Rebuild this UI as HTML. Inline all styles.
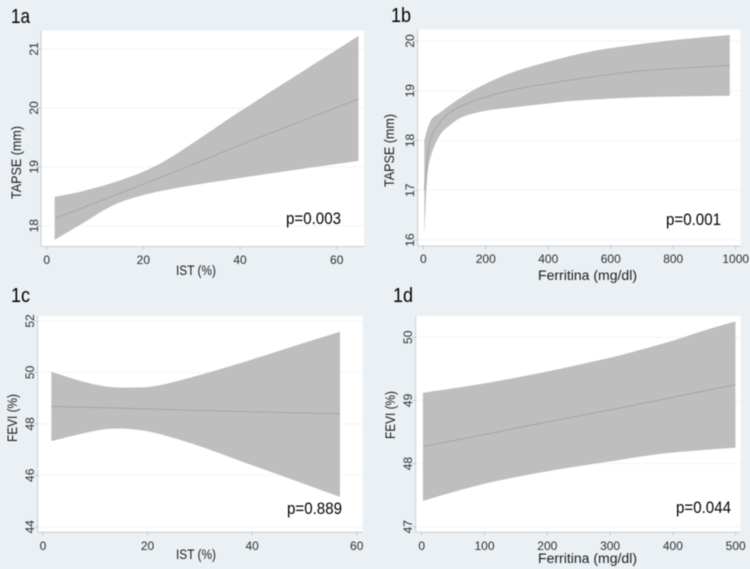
<!DOCTYPE html>
<html>
<head>
<meta charset="utf-8">
<style>
html,body{margin:0;padding:0;background:#eaf0f4;width:750px;height:569px;overflow:hidden}
svg{display:block;filter:blur(0.55px)}
text{font-family:"Liberation Sans",sans-serif;fill:#2a2a2a}
.tick{font-size:12px;fill:#2e2e2e}
.title{font-size:13.5px;fill:#1c1c1c}
.panel{font-size:20px;fill:#000}
.pval{font-size:16.5px;fill:#000}
</style>
</head>
<body>
<svg id="fig" width="750" height="569" viewBox="0 0 750 569" xmlns="http://www.w3.org/2000/svg">
<rect width="750" height="569" fill="#eaf0f4"/>
<g id="marks"></g>
<text class="panel" x="11" y="23" textLength="19" lengthAdjust="spacingAndGlyphs">1a</text>
<text class="panel" x="391" y="22" textLength="20" lengthAdjust="spacingAndGlyphs">1b</text>
<text class="panel" x="11" y="302" textLength="19" lengthAdjust="spacingAndGlyphs">1c</text>
<text class="panel" x="393" y="302" textLength="20" lengthAdjust="spacingAndGlyphs">1d</text>
<text class="pval" x="286" y="224" textLength="55" lengthAdjust="spacingAndGlyphs">p=0.003</text>
<text class="pval" x="666" y="225" textLength="55" lengthAdjust="spacingAndGlyphs">p=0.001</text>
<text class="pval" x="287" y="514" textLength="55" lengthAdjust="spacingAndGlyphs">p=0.889</text>
<text class="pval" x="676" y="513" textLength="55" lengthAdjust="spacingAndGlyphs">p=0.044</text>
<text class="title" x="176" y="275" textLength="40" lengthAdjust="spacingAndGlyphs">IST (%)</text>
<text class="title" x="538" y="280" textLength="99" lengthAdjust="spacingAndGlyphs">Ferritina (mg/dl)</text>
<text class="title" x="176" y="559" textLength="40" lengthAdjust="spacingAndGlyphs">IST (%)</text>
<text class="title" x="538" y="563" textLength="99" lengthAdjust="spacingAndGlyphs">Ferritina (mg/dl)</text>
<text class="title" transform="translate(21,199) rotate(-90)" textLength="73" lengthAdjust="spacingAndGlyphs">TAPSE (mm)</text>
<text class="title" transform="translate(394,187) rotate(-90)" textLength="73" lengthAdjust="spacingAndGlyphs">TAPSE (mm)</text>
<text class="title" transform="translate(17,442) rotate(-90)" textLength="48" lengthAdjust="spacingAndGlyphs">FEVI (%)</text>
<text class="title" transform="translate(395,439) rotate(-90)" textLength="48" lengthAdjust="spacingAndGlyphs">FEVI (%)</text>
</svg>
<script>
// Panel 1a
const aXTicks = [0, 20, 40, 60];
const aYTicks = [18, 19, 20, 21];
const aUpperX = [1.65, 7.6, 14.5, 21.4, 27.6, 40, 52.4, 64.5];
const aUpperY = [18.49, 18.59, 18.75, 18.97, 19.26, 19.94, 20.59, 21.22];
const aLowerX = [1.65, 7.6, 13.1, 18.6, 27.6, 40, 52.4, 64.5];
const aLowerY = [17.76, 18.05, 18.32, 18.49, 18.65, 18.81, 18.96, 19.1];
const aMidX = [1.65, 27.6, 40, 64.5];
const aMidY = [18.12, 18.95, 19.37, 20.15];
// Panel 1b
const bXTicks = [0, 200, 400, 600, 800, 1000];
const bYTicks = [16, 17, 18, 19, 20];
const bUpperX = [3.3, 23.6, 53.5, 117.5, 203, 309.5, 486, 614, 806, 981];
const bUpperY = [18.01, 18.4, 18.56, 18.85, 19.15, 19.42, 19.72, 19.87, 20.02, 20.12];
const bLowerX = [3.3, 12.9, 26.9, 53.5, 85.5, 128, 203, 309.5, 405, 486, 699, 981];
const bLowerY = [16.07, 17.27, 17.74, 18.11, 18.31, 18.48, 18.6, 18.68, 18.75, 18.8, 18.87, 18.9];
const bMidX = [3.3, 19, 43, 75, 128, 203, 309.5, 405, 486, 699, 981];
const bMidY = [17.0, 17.91, 18.28, 18.51, 18.71, 18.88, 19.05, 19.15, 19.23, 19.4, 19.51];
// Panel 1c
const cXTicks = [0, 20, 40, 60];
const cYTicks = [44, 46, 48, 50, 52];
const cUpperX = [1.6, 7.7, 12.2, 16.6, 21.8, 30, 39.6, 49.2, 56.8];
const cUpperY = [50.02, 49.64, 49.45, 49.41, 49.48, 49.9, 50.48, 51.1, 51.58];
const cLowerX = [1.6, 7.7, 12.2, 16.6, 21.8, 30, 39.6, 49.2, 56.8];
const cLowerY = [47.33, 47.63, 47.8, 47.8, 47.63, 47.13, 46.42, 45.72, 45.16];
const cMidX = [1.6, 20, 40, 56.8];
const cMidY = [48.68, 48.58, 48.47, 48.39];
// Panel 1d
const dXTicks = [0, 100, 200, 300, 400, 500];
const dYTicks = [47, 48, 49, 50];
const dUpperX = [2, 100, 196, 297, 347.5, 400.7, 453.8, 499.5];
const dUpperY = [49.12, 49.27, 49.45, 49.67, 49.8, 49.95, 50.12, 50.25];
const dLowerX = [2, 100, 196, 297, 377, 456, 499.5];
const dLowerY = [47.41, 47.68, 47.87, 48.03, 48.15, 48.22, 48.25];
const dMidX = [2, 100, 200, 300, 400, 499.5];
const dMidY = [48.27, 48.46, 48.66, 48.85, 49.05, 49.25];

const NS = 'http://www.w3.org/2000/svg';
const marks = document.getElementById('marks');

function add(tag, attrs) {
  const el = document.createElementNS(NS, tag);
  Object.keys(attrs).forEach(function (k) { el.setAttribute(k, attrs[k]); });
  marks.appendChild(el);
  return el;
}

// Catmull-Rom smoothing through the points; `move` starts a new path, otherwise continues
function smooth(pts, move) {
  let d = (move ? 'M' : 'L') + pts[0][0].toFixed(2) + ' ' + pts[0][1].toFixed(2);
  for (let i = 0; i < pts.length - 1; i++) {
    const p0 = pts[Math.max(i - 1, 0)], p1 = pts[i], p2 = pts[i + 1], p3 = pts[Math.min(i + 2, pts.length - 1)];
    const c1x = p1[0] + (p2[0] - p0[0]) / 6, c1y = p1[1] + (p2[1] - p0[1]) / 6;
    const c2x = p2[0] - (p3[0] - p1[0]) / 6, c2y = p2[1] - (p3[1] - p1[1]) / 6;
    d += 'C' + c1x.toFixed(2) + ' ' + c1y.toFixed(2) + ' ' + c2x.toFixed(2) + ' ' + c2y.toFixed(2) + ' ' + p2[0].toFixed(2) + ' ' + p2[1].toFixed(2);
  }
  return d;
}

function zip(xs, ys, sx, sy) {
  return xs.map(function (x, i) { return [sx(x), sy(ys[i])]; });
}

function drawPanel(id, box, xRef, yRef, labelPos, s) {
  const sx = function (v) { return xRef.p0 + (v - xRef.d0) * (xRef.p1 - xRef.p0) / (xRef.d1 - xRef.d0); };
  const sy = function (v) { return yRef.p0 + (v - yRef.d0) * (yRef.p1 - yRef.p0) / (yRef.d1 - yRef.d0); };

  const bg = add('rect', { x: box.l, y: box.t, width: box.r - box.l, height: box.b - box.t, fill: '#ffffff' });
  
  

  s.yTicks.forEach(function (t) {
    const g = add('line', { x1: box.l, x2: box.r, y1: sy(t), y2: sy(t), stroke: '#f1f4f6', 'stroke-width': 1 });
    
    
  });

  const upper = zip(s.upperX, s.upperY, sx, sy);
  const lower = zip(s.lowerX, s.lowerY, sx, sy).reverse();
  const band = add('path', { d: smooth(upper, true) + smooth(lower, false) + 'Z', fill: '#bebebe' });
  
  

  const mid = add('path', { d: smooth(zip(s.midX, s.midY, sx, sy), true), fill: 'none', stroke: '#a3a3a3', 'stroke-width': 0.9 });
  
  

  const xAxis = add('line', { x1: box.l, x2: box.r, y1: box.b, y2: box.b, stroke: '#c9d0d6', 'stroke-width': 1 });
  
  
  const yAxis = add('line', { x1: box.l, x2: box.l, y1: box.t, y2: box.b, stroke: '#c9d0d6', 'stroke-width': 1 });
  
  

  s.xTicks.forEach(function (t) {
    const m = add('line', { x1: sx(t), x2: sx(t), y1: box.b, y2: box.b + 3, stroke: '#b4bcc3', 'stroke-width': 0.8 });
    
    
    const l = add('text', { class: 'tick', x: sx(t), y: labelPos.xBase, 'text-anchor': 'middle' });
    l.textContent = t;
    
    
  });
  s.yTicks.forEach(function (t) {
    const m = add('line', { x1: box.l - 3, x2: box.l, y1: sy(t), y2: sy(t), stroke: '#b4bcc3', 'stroke-width': 0.8 });
    
    
    const l = add('text', { class: 'tick', transform: 'translate(' + labelPos.yBase + ',' + sy(t) + ') rotate(-90)', 'text-anchor': 'middle' });
    l.textContent = t;
    
    
  });
}

drawPanel('1a', { l: 41, r: 364, t: 30.5, b: 246.5 },
  { d0: 0, d1: 60, p0: 46.7, p1: 336.7 }, { d0: 18, d1: 21, p0: 225.7, p1: 49 },
  { xBase: 264, yBase: 38 },
  { xTicks: aXTicks, yTicks: aYTicks, upperX: aUpperX, upperY: aUpperY, lowerX: aLowerX, lowerY: aLowerY, midX: aMidX, midY: aMidY });

drawPanel('1b', { l: 417.7, r: 740.7, t: 29.5, b: 246 },
  { d0: 0, d1: 1000, p0: 423.3, p1: 735.7 }, { d0: 16, d1: 20, p0: 240, p1: 41 },
  { xBase: 263, yBase: 414 },
  { xTicks: bXTicks, yTicks: bYTicks, upperX: bUpperX, upperY: bUpperY, lowerX: bLowerX, lowerY: bLowerY, midX: bMidX, midY: bMidY });

drawPanel('1c', { l: 37.7, r: 362.7, t: 316, b: 532.3 },
  { d0: 0, d1: 60, p0: 43, p1: 356.7 }, { d0: 44, d1: 52, p0: 526.7, p1: 321 },
  { xBase: 550, yBase: 34 },
  { xTicks: cXTicks, yTicks: cYTicks, upperX: cUpperX, upperY: cUpperY, lowerX: cLowerX, lowerY: cLowerY, midX: cMidX, midY: cMidY });

drawPanel('1d', { l: 415.7, r: 740.7, t: 316, b: 532.3 },
  { d0: 0, d1: 500, p0: 421.7, p1: 735.7 }, { d0: 47, d1: 50, p0: 526.7, p1: 337.3 },
  { xBase: 550, yBase: 412 },
  { xTicks: dXTicks, yTicks: dYTicks, upperX: dUpperX, upperY: dUpperY, lowerX: dLowerX, lowerY: dLowerY, midX: dMidX, midY: dMidY });
</script>
</body>
</html>
